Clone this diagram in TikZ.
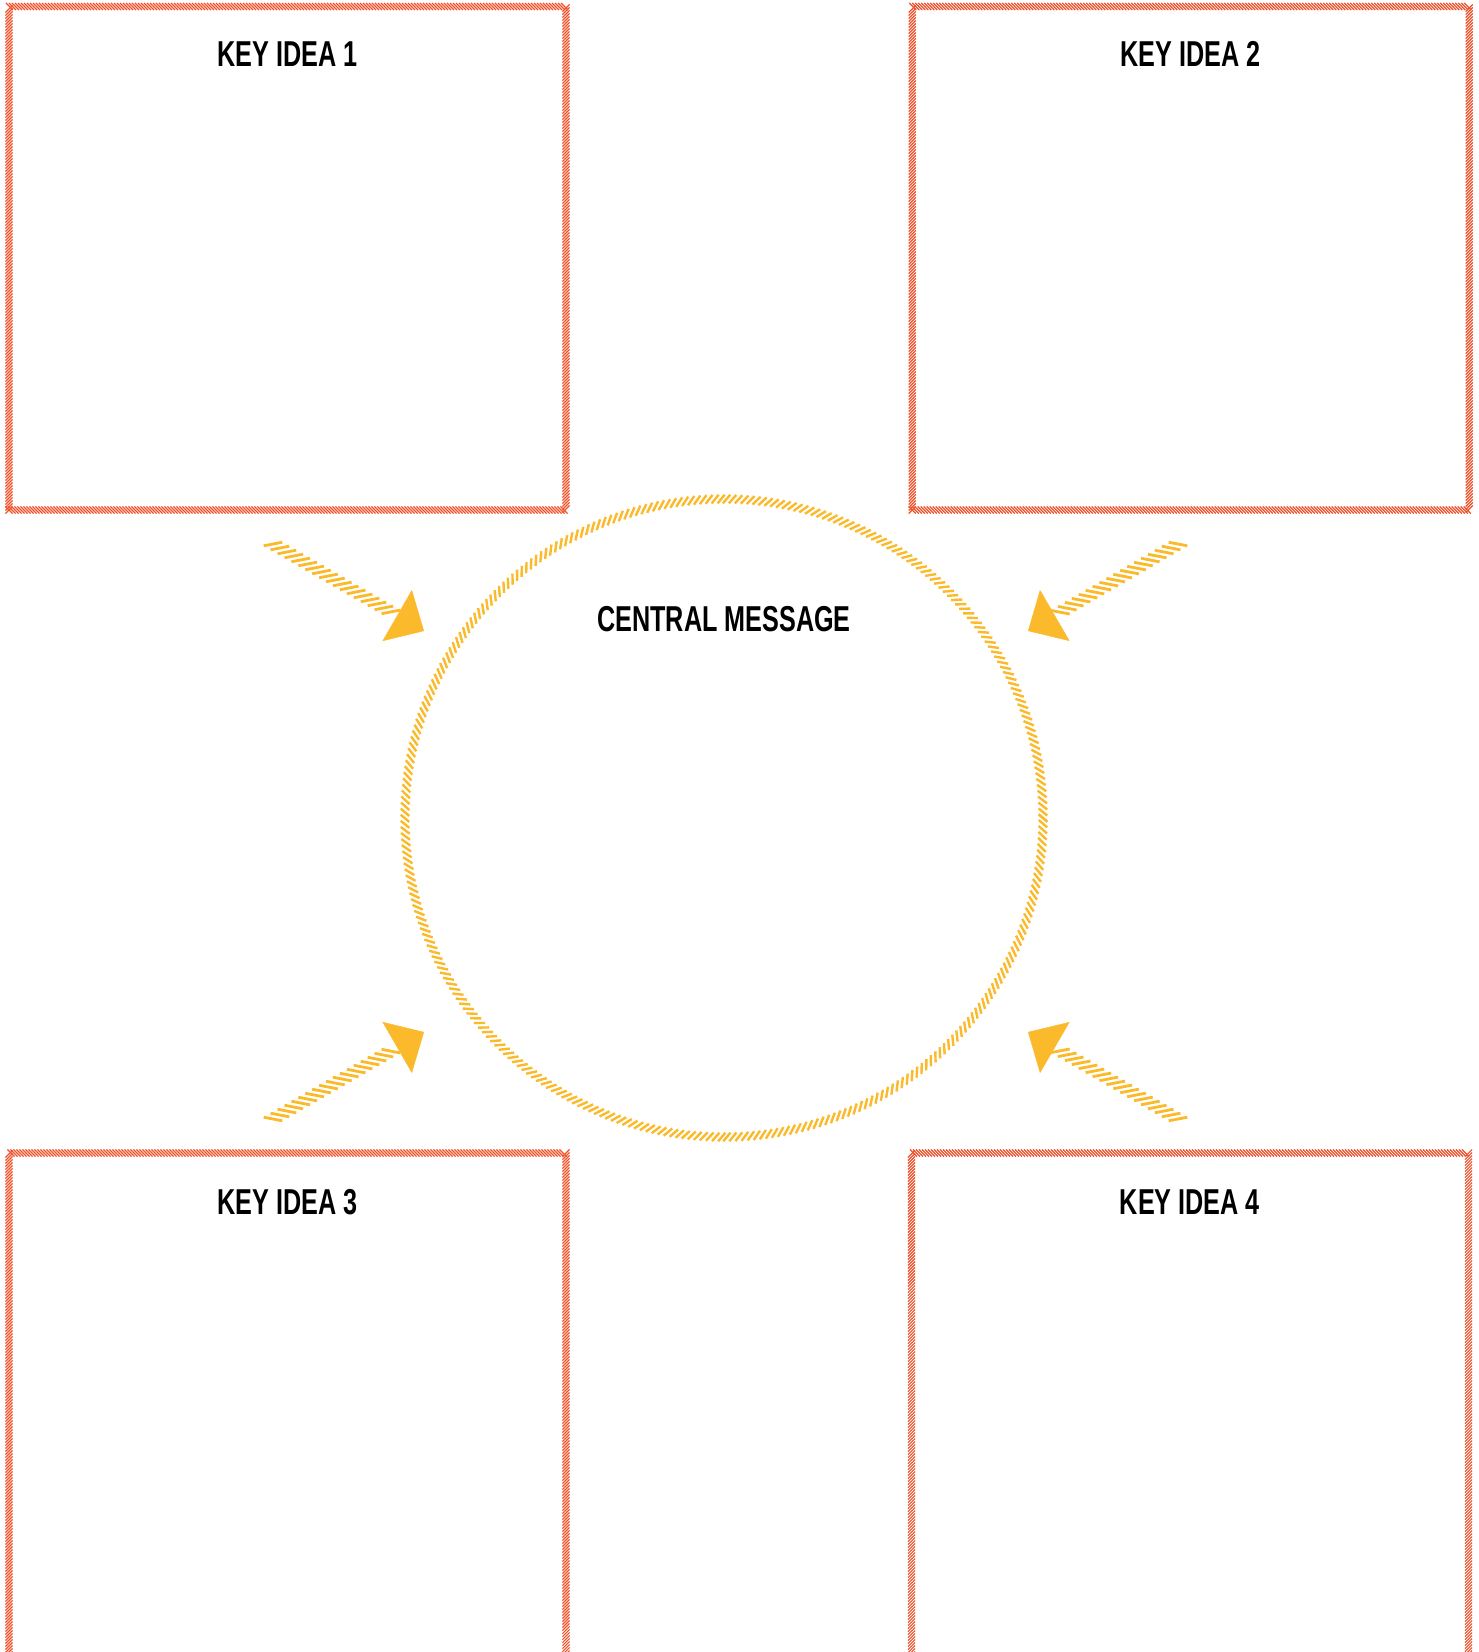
\documentclass[tikz,border=0pt]{standalone}
\usepackage{fontspec}
\newfontfamily\headfont{Liberation Sans}[FakeStretch=0.7]
\usetikzlibrary{arrows.meta,decorations.markings}
\definecolor{ideared}{RGB}{238,80,42}
\definecolor{coreyellow}{RGB}{251,186,44}

\begin{document}
\begin{tikzpicture}[x=1pt, y=1pt,
        ideabox/.style={rectangle, minimum width=557pt, inner sep=0pt, outer sep=0pt,
            postaction={decorate, decoration={markings,
                mark=between positions 0 and 1 step 3pt with {\draw[-, solid, ideared, line width=1.1pt] (-45:-5pt) -- (-45:5pt);}}}},
        core/.style={circle, minimum size=638pt, inner sep=0pt, outer sep=0pt,
            postaction={decorate, decoration={markings,
                mark=between positions 0 and 1 step 6pt with {\draw[-, solid, coreyellow, line width=2.4pt] (50:-5.6pt) -- (50:5.6pt);}}}},
        feed/.style={draw=coreyellow, dash pattern=on 0pt off 2000pt, -{Triangle[length=31pt, width=59pt]},
            postaction={decorate, decoration={markings,
                mark=between positions 0 and 0.82 step 8pt with {\draw[-, solid, coreyellow, line width=2.8pt] (#1:-9.5pt) -- (#1:9.5pt);}}}},
        title/.style={font=\headfont\bfseries\fontsize{36}{40}\selectfont, anchor=base, inner sep=0pt}
    ]
        \useasboundingbox (0,-1652) rectangle (1479,0);
        \clip (0,-1652) rectangle (1479,0);

        % Key idea boxes
        \node[ideabox, minimum height=503.5pt] (k1) at (287.5,-258.25) {};
        \node[ideabox, minimum height=503.5pt] (k2) at (1190.75,-258.25) {};
        \node[ideabox, minimum height=700pt] (k3) at (287.5,-1503) {};
        \node[ideabox, minimum height=700pt] (k4) at (1190,-1503) {};

        \node[title] (t1) at ([yshift=-59.5pt]k1.north) {KEY IDEA 1};
        \node[title] (t2) at ([yshift=-59.5pt]k2.north) {KEY IDEA 2};
        \node[title] (t3) at ([yshift=-61pt]k3.north) {KEY IDEA 3};
        \node[title] (t4) at ([yshift=-61pt]k4.north) {KEY IDEA 4};

        % Central message
        \node[core] (c) at (724,-818) {};
        \node[title] (tc) at (724,-631) {CENTRAL MESSAGE};

        % Arrows towards the centre
        \coordinate (f1s) at (273,-544);  \coordinate (f1e) at (424,-631);
        \coordinate (f2s) at (1178,-544); \coordinate (f2e) at (1028,-631);
        \coordinate (f3s) at (273,-1119); \coordinate (f3e) at (424,-1032);
        \coordinate (f4s) at (1178,-1119); \coordinate (f4e) at (1028,-1032);

        \draw[feed=41] (f1s) -- (f1e);
        \draw[feed=-41] (f2s) -- (f2e);
        \draw[feed=-41] (f3s) -- (f3e);
        \draw[feed=41] (f4s) -- (f4e);
\end{tikzpicture}
\end{document}
